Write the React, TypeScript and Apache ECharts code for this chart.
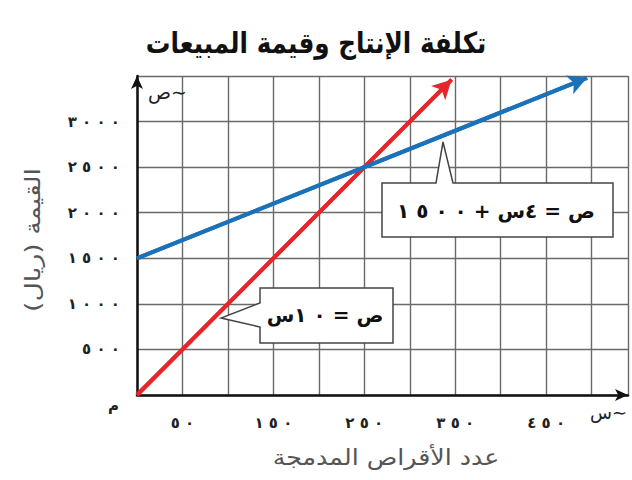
import React, { useEffect, useRef } from "react";
import * as echarts from "echarts";

const titleText = "تكلفة الإنتاج وقيمة المبيعات";
const yName = "القيمة (ريال)";
const xName = "عدد الأقراص المدمجة";

const xShownTicks = [50, 150, 250, 350, 450];
const yShownTicks = [500, 1000, 1500, 2000, 2500, 3000];

// cost line: ص = ١٠س
const costX = [0, 346];
const costY = [0, 3460];
// sales line: ص = ٤س + ١٥٠٠
const salesX = [0, 495];
const salesY = [1500, 3480];

const NBSP = "\u00A0";
const toArabic = (n: number) =>
  String(n)
    .split("")
    .map((d) => String.fromCharCode(0x0660 + Number(d)))
    .join(NBSP);

const salesLabel = "ص = ٤س + " + toArabic(1500);
const costLabel = "ص = " + toArabic(10) + "س";

const FONT = "DejaVu Sans";
const RED = "#e5262a";
const BLUE = "#1c72b9";

export default function App() {
  const ref = useRef<HTMLDivElement>(null);
  useEffect(() => {
    if (!ref.current) return;
    const chart = echarts.init(ref.current, null, { renderer: "svg" });
    const pairs = (xs: number[], ys: number[]) => xs.map((x, i) => [x, ys[i]]);
    const cost = pairs(costX, costY);
    const sales = pairs(salesX, salesY);
    const arrowSeries = (name: string, data: number[][], color: string) => ({
      name,
      type: "line",
      data,
      symbol: "none",
      lineStyle: { color, width: 4 },
      z: 5,
      markLine: {
        silent: true,
        symbol: ["none", "arrow"],
        symbolSize: [15, 19],
        label: { show: false },
        lineStyle: { color, width: 4, type: "solid" },
        data: [[{ coord: data[0] }, { coord: data[data.length - 1] }]],
      },
    });
    chart.setOption({
      animation: false,
      backgroundColor: "#ffffff",
      textStyle: { fontFamily: FONT },
      grid: { left: 137, right: 4, top: 76, bottom: 85 },
      xAxis: {
        type: "value",
        min: 0,
        max: 540,
        interval: 50,
        axisLine: {
          show: true,
          symbol: ["none", "arrow"],
          symbolSize: [9, 13],
          lineStyle: { color: "#111", width: 2.5 },
        },
        axisTick: { show: false },
        axisLabel: {
          margin: 20,
          fontFamily: FONT,
          fontWeight: "bold",
          fontSize: 15,
          color: "#222",
          formatter: (v: number) => (xShownTicks.includes(v) ? toArabic(v) : ""),
        },
        splitLine: { show: true, lineStyle: { color: "#6a6a6a", width: 1.4 } },
      },
      yAxis: {
        type: "value",
        min: 0,
        max: 3500,
        interval: 500,
        axisLine: {
          show: true,
          symbol: ["none", "arrow"],
          symbolSize: [9, 13],
          lineStyle: { color: "#111", width: 2.5 },
        },
        axisTick: { show: false },
        axisLabel: {
          margin: 17,
          fontFamily: FONT,
          fontWeight: "bold",
          fontSize: 15,
          color: "#222",
          formatter: (v: number) => (yShownTicks.includes(v) ? toArabic(v) : ""),
        },
        splitLine: { show: true, lineStyle: { color: "#6a6a6a", width: 1.4 } },
      },
      series: [arrowSeries("cost", cost, RED), arrowSeries("sales", sales, BLUE)],
      graphic: [
        {
          type: "text",
          x: 316,
          y: 43,
          scaleX: 0.85,
          style: {
            text: titleText,
            fontFamily: FONT,
            fontWeight: "bold",
            fontSize: 29,
            fill: "#111",
            align: "center",
            verticalAlign: "middle",
          },
        },
        {
          type: "text",
          x: 386,
          y: 458,
          scaleX: 1.15,
          style: {
            text: xName,
            fontFamily: FONT,
            fontSize: 22,
            fill: "#555",
            align: "center",
            verticalAlign: "middle",
          },
        },
        {
          type: "text",
          x: 33,
          y: 240,
          rotation: Math.PI / 2,
          scaleX: 1.27,
          style: {
            text: yName,
            fontFamily: FONT,
            fontSize: 21,
            fill: "#555",
            align: "center",
            verticalAlign: "middle",
          },
        },
        {
          type: "text",
          left: 108,
          top: 398,
          style: { text: "م", fontFamily: FONT, fontWeight: "bold", fontSize: 15, fill: "#222" },
        },
        {
          type: "text",
          left: 148,
          top: 82,
          z: 10,
          style: { text: "ص\u223C", fontFamily: FONT, fontSize: 19, fill: "#222" },
        },
        {
          type: "text",
          left: 590,
          top: 403,
          style: { text: "س\u223C", fontFamily: FONT, fontSize: 18, fill: "#222" },
        },
        {
          type: "polygon",
          z: 20,
          shape: {
            points: [
              [382, 183],
              [436, 183],
              [443, 142],
              [453, 183],
              [613, 183],
              [613, 237],
              [382, 237],
            ],
          },
          style: { fill: "#fff", stroke: "#444", lineWidth: 1.5 },
        },
        {
          type: "text",
          z: 21,
          x: 496,
          y: 211,
          style: {
            text: salesLabel,
            fontFamily: FONT,
            fontWeight: "bold",
            fontSize: 20,
            fill: "#111",
            align: "center",
            verticalAlign: "middle",
          },
        },
        {
          type: "polygon",
          z: 20,
          shape: {
            points: [
              [260, 288],
              [393, 288],
              [393, 343],
              [260, 343],
              [260, 327],
              [221, 318],
              [260, 303],
            ],
          },
          style: { fill: "#fff", stroke: "#444", lineWidth: 1.5 },
        },
        {
          type: "text",
          z: 21,
          x: 325,
          y: 315,
          style: {
            text: costLabel,
            fontFamily: FONT,
            fontWeight: "bold",
            fontSize: 20,
            fill: "#111",
            align: "center",
            verticalAlign: "middle",
          },
        },
      ],
    });
    return () => chart.dispose();
  }, []);
  return (
    <div
      ref={ref}
      style={{ position: "fixed", left: 0, top: 0, width: 632, height: 480, background: "#fff" }}
    />
  );
}
